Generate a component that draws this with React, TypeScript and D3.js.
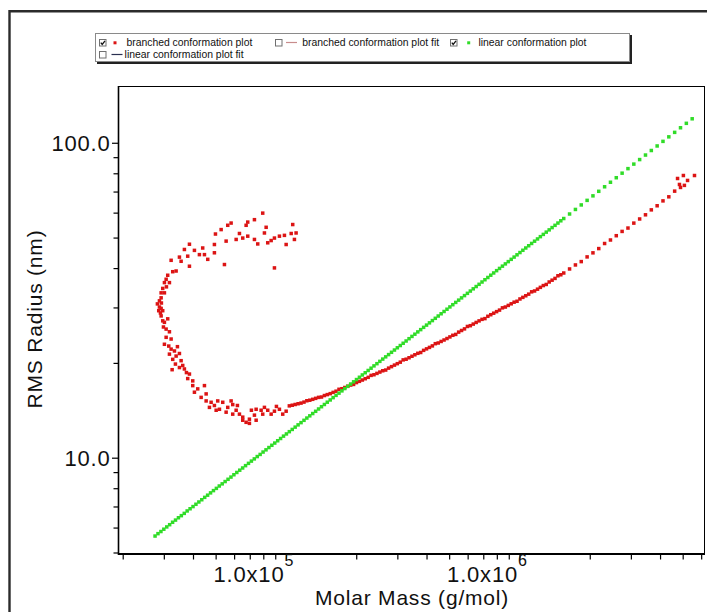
import React, { useEffect, useRef } from 'react';
import * as d3 from 'd3';

// linear conformation plot (green)
const linearMass = [
  27380, 28180, 29010, 29850, 30730, 31620, 32550, 33500, 34480, 35480,
  36520, 37580, 38680, 39810, 40970, 42170, 43400, 44670, 45970, 47320,
  48700, 50120, 51580, 53090, 54640, 56230, 57880, 59570, 61310, 63100,
  64940, 66830, 68790, 70800, 72860, 74990, 77180, 79430, 81750, 84140,
  86600, 89130, 91730, 94410, 97160, 100000, 102900, 105900, 109000, 112200,
  115500, 118900, 122300, 125900, 129600, 133400, 137300, 141300, 145400, 149600,
  154000, 158500, 163100, 167900, 172800, 177800, 183000, 188400, 193900, 199500,
  205400, 211400, 217500, 223900, 230400, 237100, 244100, 251200, 258500, 266100,
  273800, 281800, 290100, 298500, 307300, 316200, 325500, 335000, 344800, 354800,
  365200, 375800, 386800, 398100, 409700, 421700, 434000, 446700, 459700, 473200,
  487000, 501200, 515800, 530900, 546400, 562300, 578800, 595700, 613100, 631000,
  649400, 668300, 687900, 708000, 728600, 749900, 771800, 794300, 817500, 841400,
  866000, 891300, 917300, 944100, 971600, 1000000, 1029000, 1059000, 1090000, 1122000,
  1155000, 1189000, 1223000, 1259000, 1296000, 1334000, 1373000, 1413000, 1454000, 1496000,
  1540000, 1631000, 1728000, 1830000, 1939000, 2054000, 2175000, 2304000, 2441000, 2585000,
  2738000, 2901000, 3073000, 3255000, 3448000, 3652000, 3868000, 4097000, 4340000, 4597000,
  4870000, 5158000, 5464000,
];
const linearRadius = [
  5.66, 5.76, 5.85, 5.95, 6.05, 6.15, 6.26, 6.36, 6.47, 6.57,
  6.68, 6.80, 6.91, 7.02, 7.14, 7.26, 7.38, 7.51, 7.63, 7.76,
  7.89, 8.02, 8.16, 8.29, 8.43, 8.57, 8.71, 8.86, 9.01, 9.16,
  9.31, 9.47, 9.63, 9.79, 9.95, 10.12, 10.28, 10.46, 10.63, 10.81,
  10.99, 11.17, 11.36, 11.55, 11.75, 11.94, 12.14, 12.34, 12.55, 12.76,
  12.97, 13.19, 13.41, 13.63, 13.86, 14.09, 14.33, 14.57, 14.81, 15.06,
  15.31, 15.57, 15.83, 16.09, 16.36, 16.64, 16.91, 17.20, 17.48, 17.77,
  18.07, 18.38, 18.68, 18.99, 19.31, 19.64, 19.96, 20.30, 20.64, 20.98,
  21.33, 21.69, 22.05, 22.42, 22.79, 23.17, 23.56, 23.96, 24.36, 24.76,
  25.18, 25.60, 26.03, 26.46, 26.90, 27.35, 27.81, 28.28, 28.75, 29.23,
  29.72, 30.22, 30.72, 31.24, 31.76, 32.29, 32.83, 33.38, 33.94, 34.50,
  35.08, 35.66, 36.26, 36.87, 37.48, 38.11, 38.74, 39.40, 40.05, 40.72,
  41.40, 42.09, 42.80, 43.51, 44.24, 44.98, 45.73, 46.50, 47.27, 48.07,
  48.87, 49.68, 50.52, 51.36, 52.22, 53.09, 53.98, 54.88, 55.80, 56.73,
  57.68, 59.62, 61.64, 63.71, 65.87, 68.08, 70.38, 72.75, 75.20, 77.73,
  80.36, 83.07, 85.87, 88.76, 91.75, 94.85, 98.05, 101.4, 104.8, 108.3,
  112.0, 115.7, 119.6,
];

// branched conformation plot (red), main run
const branchedMass = [
  102900, 105900, 109000, 112200, 115500, 118900, 122300, 125900, 129600, 133400,
  137300, 141300, 145400, 149600, 154000, 158500, 163100, 167900, 172800, 177800,
  183000, 188400, 193900, 199500, 205400, 211400, 217500, 223900, 230400, 237100,
  244100, 251200, 258500, 266100, 273800, 281800, 290100, 298500, 307300, 316200,
  325500, 335000, 344800, 354800, 365200, 375800, 386800, 398100, 409700, 421700,
  434000, 446700, 459700, 473200, 487000, 501200, 515800, 530900, 546400, 562300,
  578800, 595700, 613100, 631000, 649400, 668300, 687900, 708000, 728600, 749900,
  771800, 794300, 817500, 841400, 866000, 891300, 917300, 944100, 971600, 1000000,
  1029000, 1059000, 1090000, 1122000, 1155000, 1189000, 1223000, 1259000, 1296000, 1334000,
  1373000, 1413000, 1454000, 1496000, 1540000, 1631000, 1728000, 1830000, 1939000, 2054000,
  2175000, 2304000, 2441000, 2585000, 2738000, 2901000, 3073000, 3255000, 3448000, 3652000,
  3868000, 4097000, 4340000, 4597000, 4870000, 4730000, 5010000, 5220000, 5590000, 4820000,
  5060000,
];
const branchedRadius = [
  14.66, 14.73, 14.81, 14.89, 14.96, 15.07, 15.22, 15.28, 15.38, 15.49,
  15.60, 15.64, 15.81, 15.92, 16.03, 16.18, 16.32, 16.55, 16.62, 16.77,
  16.92, 17.07, 17.15, 17.38, 17.54, 17.71, 17.88, 18.06, 18.32, 18.41,
  18.59, 18.77, 18.95, 19.05, 19.32, 19.53, 19.75, 19.96, 20.18, 20.52,
  20.62, 20.84, 21.07, 21.30, 21.53, 21.66, 22.00, 22.24, 22.48, 22.73,
  23.10, 23.22, 23.48, 23.73, 23.99, 24.27, 24.56, 24.72, 25.14, 25.44,
  25.74, 26.20, 26.35, 26.66, 26.98, 27.29, 27.60, 27.75, 28.22, 28.55,
  28.87, 29.20, 29.53, 30.02, 30.20, 30.56, 30.92, 31.29, 31.50, 32.03,
  32.41, 32.79, 33.18, 33.75, 33.96, 34.41, 34.87, 35.33, 35.62, 36.27,
  36.75, 37.23, 37.95, 38.23, 38.73, 39.89, 41.08, 42.10, 43.57, 44.88,
  46.30, 48.05, 49.30, 50.87, 52.49, 53.80, 55.78, 57.49, 59.27, 61.45,
  63.32, 65.62, 67.60, 70.47, 72.40, 77.3, 79.0, 76.2, 79.0, 74.0,
  73.5,
];

// branched conformation plot (red), low-mass curl
const branchedCurlMass = [
  79160, 72950, 68280, 67200, 57960, 56060, 52530, 49670, 106400, 110000,
  104800, 98050, 93330, 88850, 86010, 81870, 80500, 83160, 99720, 108200,
  75360, 72950, 68280, 60910, 55180, 49160, 49160, 46030, 43800, 44560,
  42400, 40370, 38430, 37780, 36570, 34820, 35400, 32080, 54270, 88850,
  38430, 62920, 65000,
  33700, 32590, 31020, 30540, 30030, 31550, 29530, 29070, 30030, 29070,
  28590, 28590, 29070, 29530, 28390, 29070, 29530, 30030, 29740, 30540,
  31550, 30540, 32080, 30030, 31340, 32080, 33150, 31550, 33700, 34820,
  32590, 35400, 33470, 35970, 34820, 36570, 38430, 37780, 39700, 32400,
  39700, 41700, 40370, 44560, 45310, 43130, 28020, 29150, 30630, 28870,
  31020, 34140, 37310,
  47590, 49160, 46810, 50790, 53370, 50010, 56060, 58890, 55180, 60910,
  62920, 58890, 65000, 67200, 69430, 72950, 74180, 77920, 79160, 83160,
  86010, 88850, 93330, 96420, 99720, 74180, 65000, 69430, 45310, 57960,
  51660, 61680, 70800, 80500, 90610,
];
const branchedCurlRadius = [
  60.0, 57.2, 56.2, 54.9, 55.8, 54.9, 53.2, 51.5, 55.2, 51.9,
  51.7, 51.0, 50.7, 50.0, 49.1, 54.1, 51.9, 48.3, 47.7, 49.5,
  47.9, 49.5, 50.7, 49.5, 48.9, 47.7, 44.9, 42.8, 46.5, 44.3,
  44.3, 45.7, 47.8, 43.8, 46.0, 43.5, 42.2, 42.5, 41.2, 40.2,
  40.7, 51.7, 50.0,
  39.3, 39.1, 38.1, 37.0, 36.1, 36.1, 34.6, 33.5, 33.5, 32.3,
  31.6, 30.2, 29.9, 29.4, 29.4, 28.3, 27.3, 27.0, 26.1, 25.7,
  25.2, 24.2, 23.9, 23.0, 22.7, 22.2, 21.9, 21.4, 21.1, 21.5,
  20.6, 20.4, 19.9, 19.7, 19.4, 19.2, 18.5, 17.9, 17.6, 19.1,
  17.0, 16.6, 16.2, 17.0, 16.0, 15.6, 30.9, 31.1, 35.0, 28.9,
  27.7, 22.6, 18.7,
  15.05, 14.7, 14.5, 15.2, 15.05, 14.2, 14.5, 14.8, 14.0, 14.2,
  13.8, 13.8, 13.5, 13.0, 13.3, 13.7, 14.3, 14.2, 13.8, 14.2,
  13.8, 14.1, 14.3, 13.8, 14.1, 13.2, 13.2, 12.9, 15.2, 15.2,
  14.3, 14.7, 14.2, 14.5, 14.6,
];

const xMajorTicks = [1e5, 1e6];
const xMinorTicks = [
  2e4, 3e4, 4e4, 5e4, 6e4, 7e4, 8e4, 9e4,
  2e5, 3e5, 4e5, 5e5, 6e5, 7e5, 8e5, 9e5,
  2e6, 3e6, 4e6, 5e6, 6e6,
];
const yMajorTicks = [10, 100];
const yMinorTicks = [5, 6, 7, 8, 9, 20, 30, 40, 50, 60, 70, 80, 90];

const legendLabels = [
  'branched conformation plot',
  'branched conformation plot fit',
  'linear conformation plot',
  'linear conformation plot fit',
];

const FONT = '"Liberation Sans", Arial, Helvetica, sans-serif';

const App = () => {
  const svgRef = useRef<SVGSVGElement>(null);

  useEffect(() => {
    const svg = d3.select(svgRef.current);
    svg.selectAll('*').remove();

    const x = d3.scaleLog().domain([1.9e4, 6.2e6]).range([118, 705]);
    const y = d3.scaleLog().domain([5, 152]).range([553, 86]);

    svg.append('rect').attr('width', 707).attr('height', 612).attr('fill', '#fff');

    // outer panel frame
    svg.append('path')
      .attr('d', 'M9.5,612V11.2H707')
      .attr('fill', 'none')
      .attr('stroke', '#2b2b2b')
      .attr('stroke-width', 2.4);

    svg.append('defs').append('clipPath').attr('id', 'plot-clip')
      .append('rect').attr('x', 118).attr('y', 86).attr('width', 587).attr('height', 468);

    // plot frame
    svg.append('rect')
      .attr('x', 118.5).attr('y', 86.5).attr('width', 586).attr('height', 467)
      .attr('fill', 'none').attr('stroke', '#000').attr('stroke-width', 1);
    svg.append('path')
      .attr('d', 'M118.5,86V554.2H705')
      .attr('fill', 'none').attr('stroke', '#000').attr('stroke-width', 1.6);

    const drawSeries = (mass: number[], radius: number[], color: string) => {
      svg.append('g')
        .attr('clip-path', 'url(#plot-clip)')
        .attr('fill', color)
        .selectAll('rect')
        .data(mass.map((m, i) => [m, radius[i]]))
        .join('rect')
          .attr('x', d => x(d[0]) - 1.75)
          .attr('y', d => y(d[1]) - 1.75)
          .attr('width', 3.5)
          .attr('height', 3.5);
    };

    drawSeries(branchedCurlMass, branchedCurlRadius, '#dc1414');
    drawSeries(branchedMass, branchedRadius, '#dc1414');
    drawSeries(linearMass, linearRadius, '#30dc28');

    // y ticks
    const yAxis = svg.append('g').attr('stroke', '#000').attr('stroke-width', 1.2);
    yAxis.selectAll('.ymaj').data(yMajorTicks).join('line')
      .attr('x1', 112).attr('x2', 118).attr('y1', d => y(d)).attr('y2', d => y(d));
    yAxis.selectAll('.ymin').data(yMinorTicks).join('line')
      .attr('x1', 113.5).attr('x2', 118).attr('y1', d => y(d)).attr('y2', d => y(d));

    svg.append('g').selectAll('text').data(yMajorTicks).join('text')
      .attr('x', 110.5)
      .attr('y', d => y(d) + 8)
      .attr('text-anchor', 'end')
      .attr('font-family', FONT)
      .attr('font-size', 22)
      .attr('letter-spacing', '0.8px')
      .attr('fill', '#111')
      .text(d => d3.format('.1f')(d));

    // x ticks
    const xAxis = svg.append('g').attr('stroke', '#000').attr('stroke-width', 1.2);
    xAxis.selectAll('line').data([...xMajorTicks, ...xMinorTicks]).join('line')
      .attr('x1', d => x(d)).attr('x2', d => x(d)).attr('y1', 554).attr('y2', 559.5);

    const xLabels = svg.append('g').attr('font-family', FONT).attr('fill', '#111');
    xLabels.selectAll('.xl').data(xMajorTicks).join('text')
      .attr('x', d => x(d) - 2)
      .attr('y', 582)
      .attr('text-anchor', 'end')
      .attr('font-size', 22)
      .attr('letter-spacing', '0.8px')
      .text('1.0x10');
    xLabels.selectAll('.xs').data(xMajorTicks).join('text')
      .attr('x', d => x(d) - 2)
      .attr('y', 565.5)
      .attr('text-anchor', 'start')
      .attr('font-size', 16)
      .text(d => String(Math.round(Math.log10(d))));

    // axis titles
    svg.append('text')
      .attr('x', 412).attr('y', 605)
      .attr('text-anchor', 'middle')
      .attr('font-family', FONT).attr('font-size', 21)
      .attr('letter-spacing', '0.8px')
      .attr('fill', '#111')
      .text('Molar Mass (g/mol)');
    svg.append('text')
      .attr('transform', 'translate(42,319) rotate(-90)')
      .attr('text-anchor', 'middle')
      .attr('font-family', FONT).attr('font-size', 21)
      .attr('letter-spacing', '0.8px')
      .attr('fill', '#111')
      .text('RMS Radius (nm)');

    // legend
    const lg = svg.append('g');
    lg.append('rect').attr('x', 97).attr('y', 35).attr('width', 535).attr('height', 29).attr('fill', '#222');
    lg.append('rect').attr('x', 95.5).attr('y', 33.5).attr('width', 534).attr('height', 28)
      .attr('fill', '#fff').attr('stroke', '#8a8a8a').attr('stroke-width', 1);

    const items = [
      { cx: 99, cy: 39, checked: true, mark: 'dot', color: '#dc1414', tx: 126.4, ty: 46, mx: 115 },
      { cx: 275, cy: 39, checked: false, mark: 'line', color: '#c88c8c', tx: 302.2, ty: 46, mx: 291.5 },
      { cx: 450, cy: 39, checked: true, mark: 'dot', color: '#30dc28', tx: 478.4, ty: 46, mx: 468.7 },
      { cx: 99, cy: 51, checked: false, mark: 'line', color: '#2a3050', tx: 124.6, ty: 58, mx: 117 },
    ];
    items.forEach((it, i) => {
      lg.append('rect').attr('x', it.cx + 0.5).attr('y', it.cy + 0.5).attr('width', 6.5).attr('height', 6.5)
        .attr('fill', '#fff').attr('stroke', '#707070').attr('stroke-width', 1);
      if (it.checked) {
        lg.append('path')
          .attr('d', `M${it.cx + 1.8},${it.cy + 3.6}L${it.cx + 3.2},${it.cy + 5.4}L${it.cx + 6},${it.cy + 1.8}`)
          .attr('fill', 'none').attr('stroke', '#111').attr('stroke-width', 1.3);
      }
      if (it.mark === 'dot') {
        lg.append('rect').attr('x', it.mx - 1.5).attr('y', it.cy + 2.3).attr('width', 3).attr('height', 3)
          .attr('fill', it.color);
      } else {
        lg.append('line').attr('x1', it.mx - 5.5).attr('x2', it.mx + 5.5)
          .attr('y1', it.cy + 3.5).attr('y2', it.cy + 3.5)
          .attr('stroke', it.color).attr('stroke-width', 1.2);
      }
      lg.append('text')
        .attr('x', it.tx).attr('y', it.ty)
        .attr('font-family', FONT).attr('font-size', 10.4)
        .attr('fill', '#111')
        .text(legendLabels[i]);
    });
  }, []);

  return (
    <svg
      ref={svgRef}
      width={707}
      height={612}
      style={{ position: 'absolute', left: 0, top: 0, display: 'block' }}
    />
  );
};

export default App;
